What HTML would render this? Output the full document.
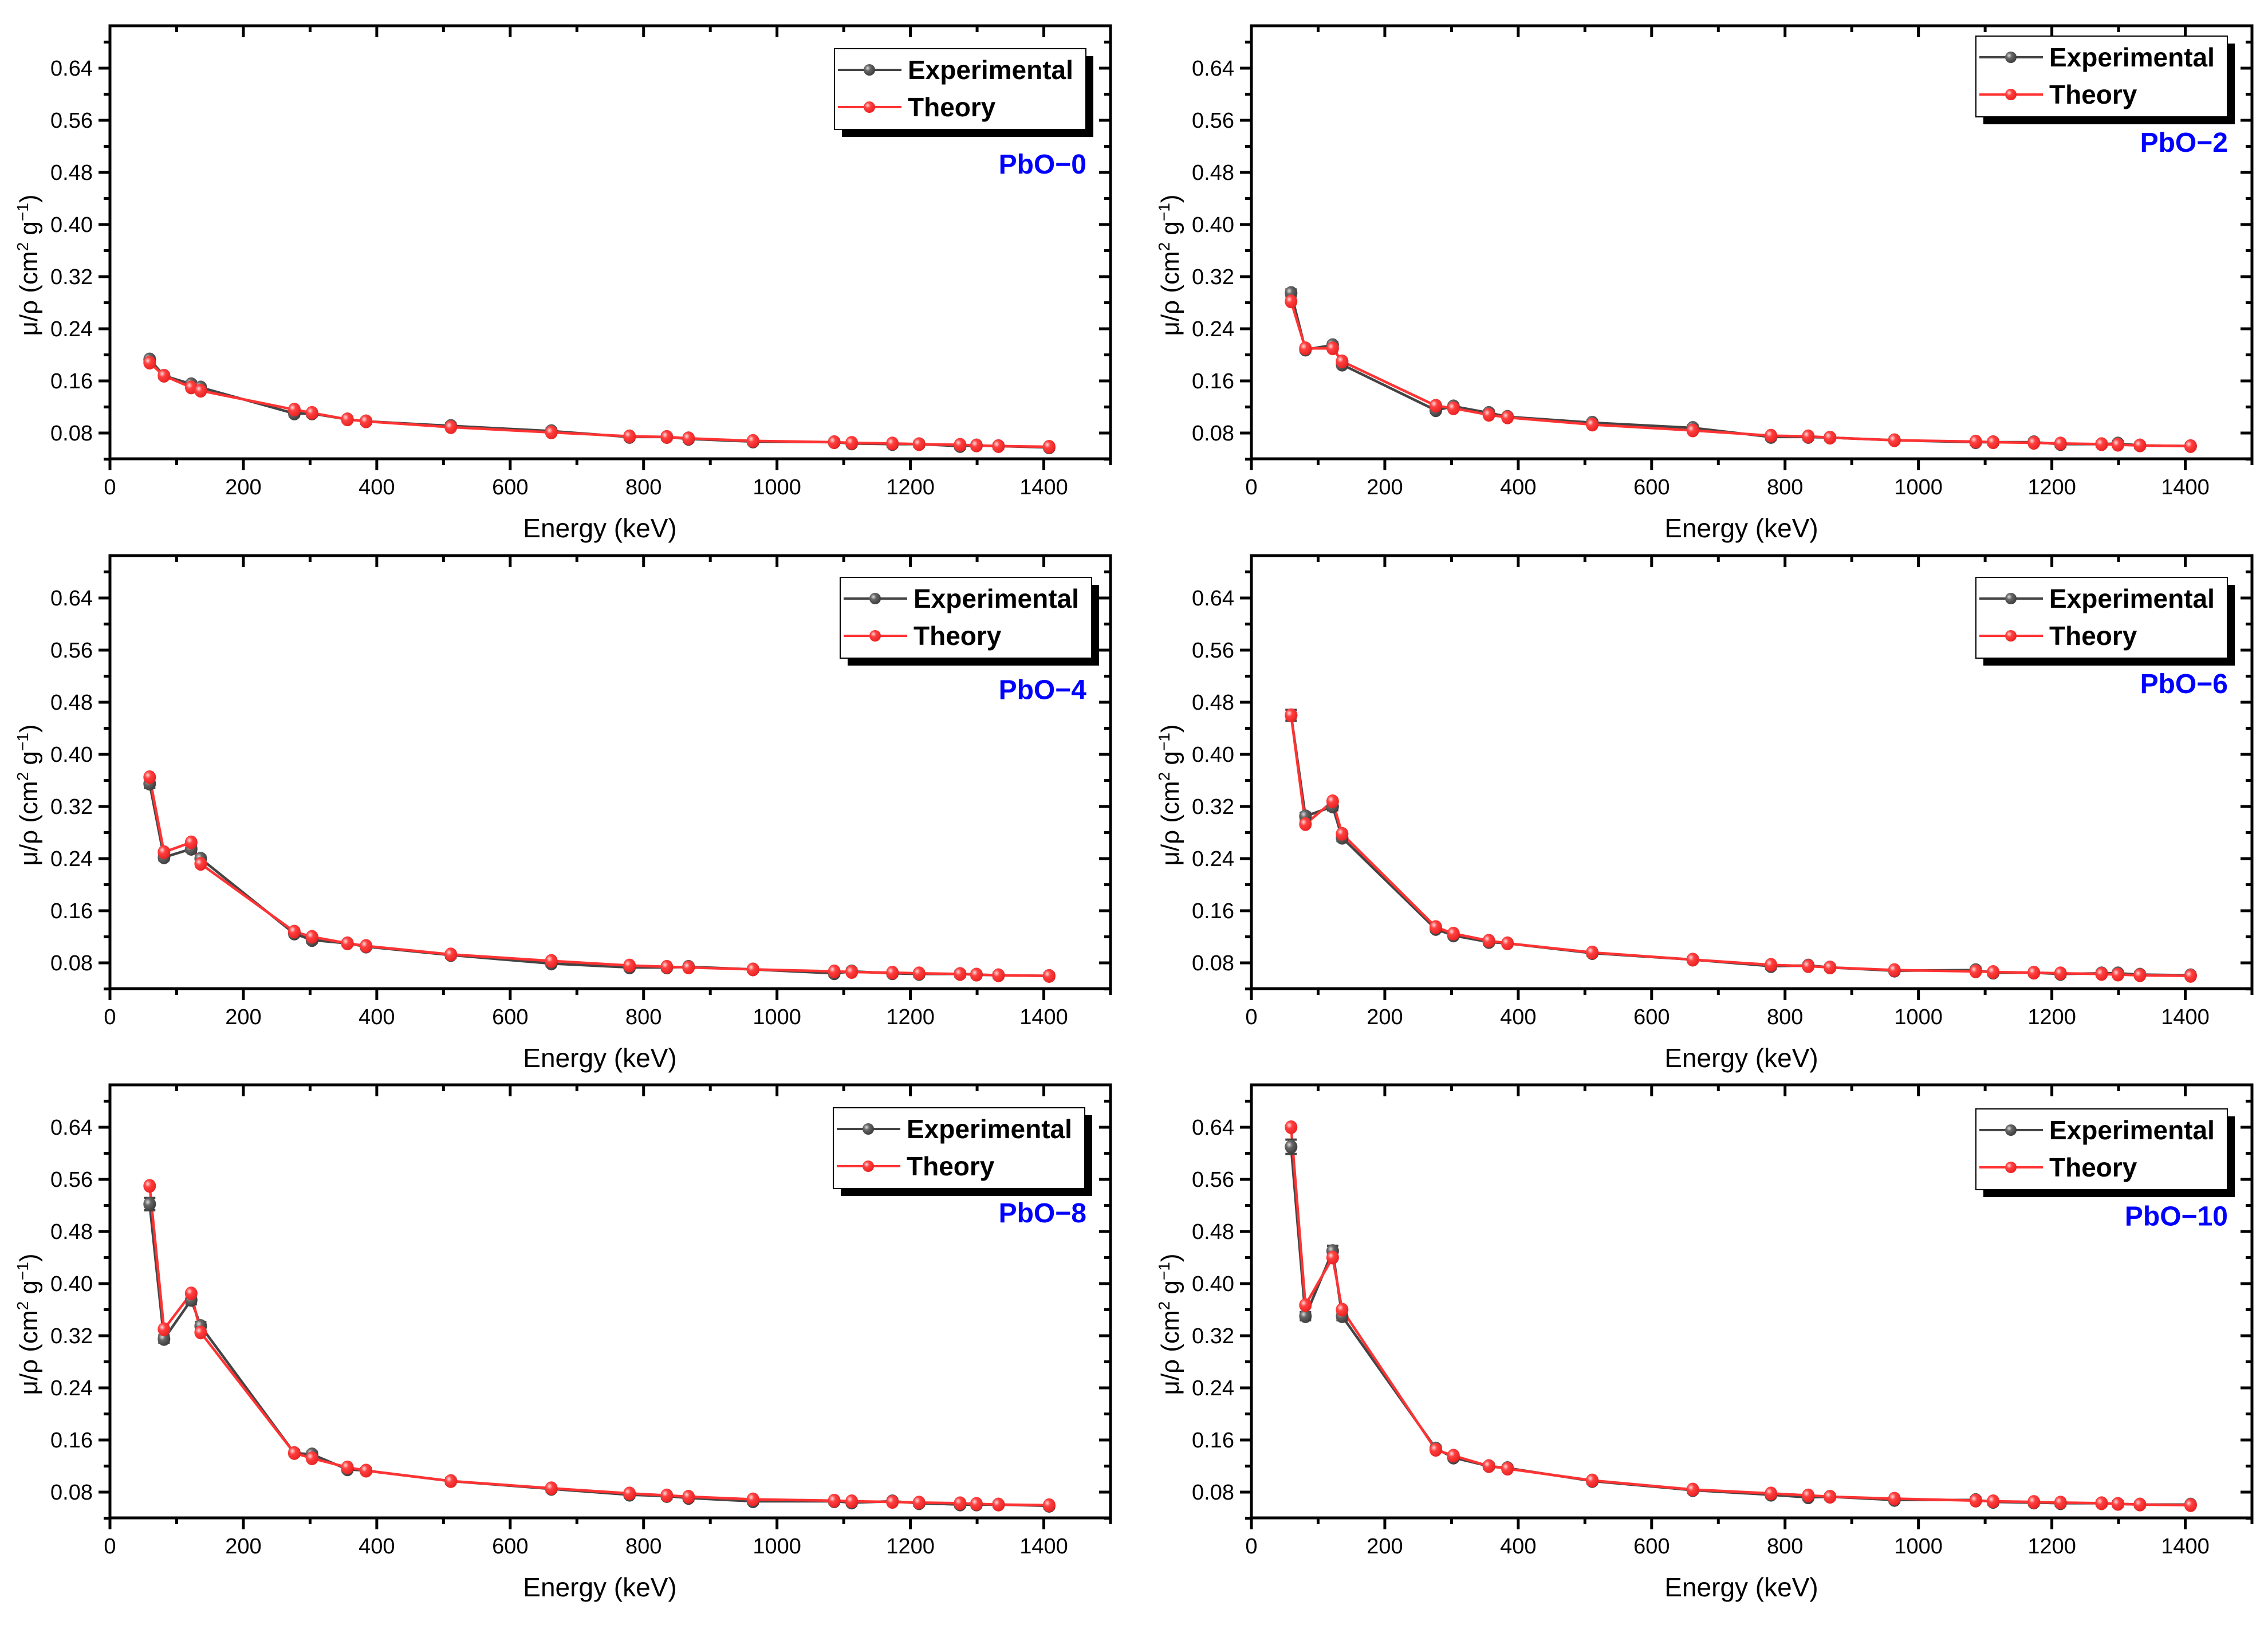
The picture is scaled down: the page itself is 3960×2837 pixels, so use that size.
<!DOCTYPE html>
<html><head><meta charset="utf-8"><style>
html,body{margin:0;padding:0;background:#fff;width:3960px;height:2837px;overflow:hidden}
svg{display:block;font-family:"Liberation Sans",Arial,sans-serif}
</style></head><body>
<svg id="fig" width="3960" height="2837" viewBox="0 0 3960 2837" xmlns="http://www.w3.org/2000/svg">
<defs>
<radialGradient id="gk" cx="0.35" cy="0.35" r="0.7"><stop offset="0" stop-color="#ddd"/><stop offset="0.35" stop-color="#666"/><stop offset="1" stop-color="#3a3a3a"/></radialGradient>
<radialGradient id="gr" cx="0.35" cy="0.35" r="0.7"><stop offset="0" stop-color="#fdd"/><stop offset="0.35" stop-color="#ff4040"/><stop offset="1" stop-color="#e82020"/></radialGradient>
</defs>
</svg>
<script>
const energies = [59.5,81,121.8,136,276.4,302.9,356,383.9,511,661.7,778.9,834.8,867.4,964,1085.8,1112,1173,1213,1274.5,1299,1332,1408];
const panelNames = ["PbO\u22120","PbO\u22122","PbO\u22124","PbO\u22126","PbO\u22128","PbO\u221210"];
const exp0 = [0.193,0.168,0.155,0.150,0.110,0.110,0.101,0.098,0.091,0.083,0.074,0.074,0.071,0.067,0.066,0.064,0.063,0.063,0.060,0.061,0.060,0.058];
const thr0 = [0.188,0.168,0.150,0.145,0.116,0.111,0.101,0.098,0.089,0.081,0.075,0.074,0.072,0.068,0.066,0.065,0.064,0.063,0.062,0.061,0.060,0.059];
const exp2 = [0.295,0.208,0.215,0.185,0.115,0.121,0.111,0.105,0.096,0.088,0.074,0.074,0.073,0.069,0.066,0.066,0.066,0.063,0.063,0.064,0.061,0.060];
const thr2 = [0.282,0.210,0.210,0.190,0.122,0.118,0.108,0.104,0.093,0.084,0.076,0.075,0.073,0.069,0.067,0.066,0.065,0.064,0.063,0.062,0.061,0.060];
const exp4 = [0.355,0.242,0.255,0.240,0.125,0.115,0.110,0.105,0.092,0.079,0.073,0.073,0.074,0.070,0.064,0.067,0.064,0.063,0.063,0.062,0.061,0.060];
const thr4 = [0.365,0.250,0.265,0.232,0.128,0.120,0.110,0.106,0.093,0.083,0.076,0.074,0.073,0.070,0.067,0.066,0.065,0.064,0.063,0.062,0.061,0.060];
const exp6 = [0.460,0.305,0.320,0.272,0.132,0.122,0.112,0.110,0.095,0.085,0.075,0.076,0.073,0.068,0.069,0.065,0.065,0.063,0.064,0.064,0.062,0.061];
const thr6 = [0.460,0.293,0.328,0.278,0.135,0.125,0.114,0.110,0.096,0.085,0.077,0.075,0.073,0.069,0.067,0.066,0.065,0.064,0.063,0.062,0.061,0.060];
const exp8 = [0.522,0.315,0.375,0.335,0.140,0.138,0.115,0.113,0.097,0.085,0.076,0.074,0.071,0.066,0.066,0.064,0.066,0.063,0.061,0.061,0.061,0.059];
const thr8 = [0.550,0.330,0.385,0.325,0.140,0.132,0.118,0.113,0.097,0.086,0.078,0.075,0.073,0.069,0.067,0.066,0.065,0.064,0.063,0.062,0.061,0.060];
const exp10 = [0.610,0.350,0.450,0.350,0.147,0.133,0.120,0.117,0.097,0.083,0.076,0.072,0.073,0.068,0.068,0.065,0.064,0.063,0.063,0.062,0.061,0.061];
const thr10 = [0.640,0.367,0.440,0.360,0.145,0.136,0.120,0.116,0.098,0.084,0.078,0.075,0.073,0.070,0.067,0.066,0.065,0.064,0.063,0.062,0.061,0.060];
const expSeries = [exp0,exp2,exp4,exp6,exp8,exp10];
const thrSeries = [thr0,thr2,thr4,thr6,thr8,thr10];
const xTicks = [0,200,400,600,800,1000,1200,1400];
const yTicks = [0.08,0.16,0.24,0.32,0.40,0.48,0.56,0.64];

const NS="http://www.w3.org/2000/svg";
const svg=document.getElementById('fig');
function mk(tag,attrs,parent){const e=document.createElementNS(NS,tag);for(const k in attrs)e.setAttribute(k,attrs[k]);(parent||svg).appendChild(e);return e;}

const lefts=[192,2185], tops=[45,970,1894], W=1747, H=756;
const XMIN=0,XMAX=1500,YMIN=0.0405,YMAX=0.705;
const legendOff=[[-482,40],[-482,18],[-472,38],[-482,38],[-484,40],[-482,42]];
const labelOff=[95,80,92,88,88,90];

for(let p=0;p<6;p++){
  const L=lefts[p%2], T=tops[Math.floor(p/2)], R=L+W, B=T+H;
  const sx=v=>L+(v-XMIN)/(XMAX-XMIN)*W;
  const sy=v=>B-(v-YMIN)/(YMAX-YMIN)*H;
  const g=mk('g',{});
  
  
  const fr=mk('rect',{x:L,y:T,width:W,height:H,fill:'none',stroke:'#000','stroke-width':5},g);
  
  
  for(let v=0;v<=1500;v+=100){
    const x=sx(v), maj=v%200===0, len=maj?20:11;
    mk('line',{x1:x,y1:B,x2:x,y2:B+len,stroke:'#000','stroke-width':5},g);
    mk('line',{x1:x,y1:T,x2:x,y2:T+len,stroke:'#000','stroke-width':5},g);
  }
  xTicks.forEach(v=>{
    const t=mk('text',{x:sx(v),y:B+62,'font-size':38,'text-anchor':'middle',fill:'#000'},g);
    t.textContent=String(v);
    
    
  });
  for(let k=0;k<=16;k++){
    const v=0.04+k*0.04; if(v>YMAX) break;
    const y=sy(v), maj=k%2===1, len=maj?20:11;
    mk('line',{x1:L,y1:y,x2:L-len,y2:y,stroke:'#000','stroke-width':5},g);
    mk('line',{x1:R,y1:y,x2:R-len,y2:y,stroke:'#000','stroke-width':5},g);
  }
  yTicks.forEach(v=>{
    const t=mk('text',{x:L-30,y:sy(v)+13,'font-size':38,'text-anchor':'end',fill:'#000'},g);
    t.textContent=v.toFixed(2);
    
    
  });
  const xt=mk('text',{x:L+W/2-18,y:B+137,'font-size':46,'text-anchor':'middle',fill:'#000'},g);
  xt.textContent='Energy (keV)';
  
  
  const yt=mk('text',{x:0,y:0,'font-size':44,'text-anchor':'middle',fill:'#000',transform:`translate(${L-127},${T+H/2+40}) rotate(-90)`},g);
  yt.innerHTML='\u03bc/\u03c1 (cm<tspan font-size="28" dy="-16">2</tspan><tspan dy="16"> g</tspan><tspan font-size="28" dy="-16">\u22121</tspan><tspan dy="16">)</tspan>';
  
  
  const sers=[[expSeries[p],'#444','url(#gk)','experimental'],[thrSeries[p],'#ff3333','url(#gr)','theory']];
  sers.forEach(([vals,col,fill,nm])=>{
    const pts=energies.map((e,i)=>sx(e).toFixed(1)+','+sy(vals[i]).toFixed(1)).join(' ');
    const pl=mk('polyline',{points:pts,fill:'none',stroke:col,'stroke-width':4.5},g);
    
    
  });
  sers.forEach(([vals,col,fill,nm],si)=>{
    energies.forEach((e,i)=>{
      const x=sx(e), y=sy(vals[i]);
      if(si===0){
        const err=Math.max(0.004,vals[i]*0.018);
        const y1=sy(vals[i]+err), y2=sy(vals[i]-err);
        mk('line',{x1:x,y1:y1,x2:x,y2:y2,stroke:'#444','stroke-width':4},g);
        mk('line',{x1:x-10,y1:y1,x2:x+10,y2:y1,stroke:'#444','stroke-width':4},g);
        mk('line',{x1:x-10,y1:y2,x2:x+10,y2:y2,stroke:'#444','stroke-width':4},g);
      }
      const c=mk('ellipse',{cx:x,cy:y,rx:11,ry:12,fill:fill},g);
      
      
    });
  });
  const lx=R+legendOff[p][0], ly=T+legendOff[p][1];
  const lg=mk('g',{},g);
  
  
  mk('rect',{x:lx+13,y:ly+13,width:439,height:141,fill:'#000'},lg);
  mk('rect',{x:lx,y:ly,width:439,height:141,fill:'#fff',stroke:'#000','stroke-width':2},lg);
  [['Experimental','#444','url(#gk)',37],['Theory','#ff3333','url(#gr)',102]].forEach(([lab,col,fill,dy])=>{
    const e=mk('g',{},lg);
    
    
    mk('line',{x1:lx+6,y1:ly+dy,x2:lx+117,y2:ly+dy,stroke:col,'stroke-width':4},e);
    mk('circle',{cx:lx+61,cy:ly+dy,r:10,fill:fill},e);
    const t=mk('text',{x:lx+128,y:ly+dy+16,'font-size':46,'font-weight':'bold',fill:'#000'},e);
    t.textContent=lab;
  });
  const pl=mk('text',{x:R-42,y:T+labelOff[p]*2.5255+18,'font-size':48,'font-weight':'bold','text-anchor':'end',fill:'#0000ff'},g);
  pl.textContent=panelNames[p];
  
  
}
</script>
</body></html>
